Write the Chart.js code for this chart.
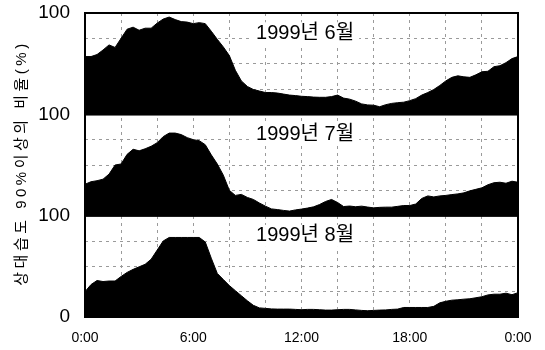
<!DOCTYPE html>
<html>
<head>
<meta charset="utf-8">
<script src="https://cdn.jsdelivr.net/npm/chart.js@4"></script>
<style>
  html, body { margin: 0; padding: 0; background: #fff; }
  #wrap { width: 545px; height: 350px; }
</style>
</head>
<body>
<div id="wrap"><canvas id="rh"></canvas></div>
<script>
// time of day in hours, one sample every 20 minutes
const hours = Array.from({ length: 73 }, (_, i) => i / 3);

// share (%) of hours with relative humidity >= 90%
const june = [
  57, 57, 59, 63.5, 68.5, 66, 75, 84, 86, 83, 85, 85,
  90, 94, 96, 93.5, 91.5, 91, 89.5, 90.5, 89.5, 82, 74, 66.5,
  58, 43.5, 33, 27.5, 24.5, 23, 21.5, 21.5, 21, 20, 19, 18.5,
  17.8, 17.5, 17, 16.8, 16.8, 17.5, 19, 16, 15, 13, 10.3, 9.3,
  9, 7.5, 9.5, 10.8, 11.5, 12, 13.5, 15.5, 19, 21.5, 24.5, 28.5,
  33, 36.5, 38, 37, 36.5, 39, 42, 42.5, 47, 48, 51, 55, 57
];
const july = [
  31, 33.5, 34.5, 36, 41, 50, 51, 60.5, 65.5, 64, 66, 68.5,
  72, 78, 81.5, 81.5, 80, 77, 75, 74, 70, 60, 51, 40,
  25, 20, 21, 18, 16, 12.5, 9.4, 6.7, 6, 5.2, 4.5, 5.7,
  6.5, 7.5, 8.7, 11, 14, 16, 13, 9, 9.5, 8.8, 9.4, 8.5,
  7.7, 8.2, 8.4, 8.4, 9.2, 10, 10, 11.5, 17, 19.5, 18.5, 19.5,
  20, 20.8, 21.5, 22.5, 24.5, 26, 27.5, 30.5, 32.5, 33, 32, 34, 33
];
const august = [
  25, 32, 36, 35, 35.5, 35.5, 40, 44, 47, 49.5, 52, 57,
  66, 75, 78.5, 78.5, 78.5, 78.5, 78.5, 78.5, 74, 58, 43, 37,
  31, 26, 21, 16, 11.5, 9, 8.5, 8, 7.8, 7.8, 7.8, 7.5,
  7.2, 7.5, 7.5, 7.2, 6.8, 6.8, 7.2, 7.5, 7.5, 7, 6.5, 6.2,
  6.5, 6.8, 7, 7.5, 7.8, 9.4, 9.4, 9.4, 9.4, 9.4, 10.5, 14,
  15.5, 16.6, 17, 17.6, 18, 19, 20, 21.8, 22.5, 22.5, 23.5, 22, 24
];

const panelLabels = ['1999년 6월', '1999년 7월', '1999년 8월'];
const panelAxes = ['yJun', 'yJul', 'yAug'];
const yTitle = '상대습도 90%이상의 비율(%)';

const NUM_FONT = '"Liberation Sans", Arial, sans-serif';
const KR_FONT = '"Liberation Sans", "Noto Sans CJK KR", sans-serif';
const GRID = '#9a9a9a';

function monthAxis(showZero) {
  return {
    type: 'linear',
    position: 'left',
    stack: 'months',
    stackWeight: 1,
    min: 0,
    max: 100,
    ticks: {
      stepSize: 25,
      autoSkip: false,
      padding: 15,
      color: '#000',
      font: { family: NUM_FONT, size: 19 },
      callback: v => (v === 100 || (showZero && v === 0)) ? String(v) : ''
    },
    grid: { color: GRID, lineWidth: 1, drawTicks: false },
    border: { display: false, dash: [3, 4] },
    afterFit: s => {
      s.width = 85;
      // let the end labels hang over the plot edge instead of shrinking it
      s.paddingTop = 0;
      s.paddingBottom = 0;
    }
  };
}

// month caption inside each panel, a heavy frame round it,
// and the shared vertical title beside the middle panel
const panelDecor = {
  id: 'panelDecor',
  afterDatasetsDraw(chart) {
    const ctx = chart.ctx;
    const area = chart.chartArea;
    const x = chart.scales.x;
    panelAxes.forEach((id, i) => {
      const y = chart.scales[id];
      const px = x.getPixelForValue(12.2);
      const py = y.getPixelForValue(80);
      ctx.save();
      ctx.font = '20px ' + KR_FONT;
      const w = ctx.measureText(panelLabels[i]).width;
      ctx.fillStyle = '#fff';
      ctx.fillRect(px - w / 2 - 5, py - 11, w + 10, 22);
      ctx.fillStyle = '#000';
      ctx.textAlign = 'center';
      ctx.textBaseline = 'middle';
      ctx.fillText(panelLabels[i], px, py);
      ctx.lineWidth = 2;
      ctx.strokeStyle = '#000';
      ctx.strokeRect(area.left, y.top, area.right - area.left, y.bottom - y.top);
      ctx.restore();
    });

    const mid = chart.scales.yJul;
    ctx.save();
    ctx.translate(22, (mid.top + mid.bottom) / 2 - 2);
    ctx.rotate(-Math.PI / 2);
    ctx.font = '15px ' + KR_FONT;
    if ('letterSpacing' in ctx) ctx.letterSpacing = '3.5px';
    ctx.fillStyle = '#000';
    ctx.textAlign = 'center';
    ctx.textBaseline = 'middle';
    ctx.fillText(yTitle, 0, 0);
    ctx.restore();
  }
};

function series(values, axis) {
  return {
    data: values.map((v, i) => ({ x: hours[i], y: v })),
    yAxisID: axis,
    fill: 'origin',
    backgroundColor: '#000',
    borderColor: '#000',
    borderWidth: 1,
    pointRadius: 0,
    tension: 0
  };
}

new Chart(document.getElementById('rh'), {
  type: 'line',
  data: {
    datasets: [
      series(june, 'yJun'),
      series(july, 'yJul'),
      series(august, 'yAug')
    ]
  },
  options: {
    responsive: true,
    maintainAspectRatio: false,
    animation: false,
    layout: { padding: { left: 0, top: 13, right: 27, bottom: 0 } },
    plugins: { legend: { display: false }, tooltip: { enabled: false } },
    scales: {
      x: {
        type: 'linear',
        min: 0,
        max: 24,
        ticks: {
          stepSize: 2,
          autoSkip: false,
          maxRotation: 0,
          padding: 13,
          color: '#000',
          font: { family: NUM_FONT, size: 14 },
          callback: v => v % 6 === 0 ? (v % 24) + ':00' : ''
        },
        grid: { color: GRID, lineWidth: 1, drawTicks: false },
        border: { display: false, dash: [3, 4] },
        afterFit: s => { s.height = 33; }
      },
      yAug: monthAxis(true),
      yJul: monthAxis(false),
      yJun: monthAxis(false)
    }
  },
  plugins: [panelDecor]
});
</script>
</body>
</html>
